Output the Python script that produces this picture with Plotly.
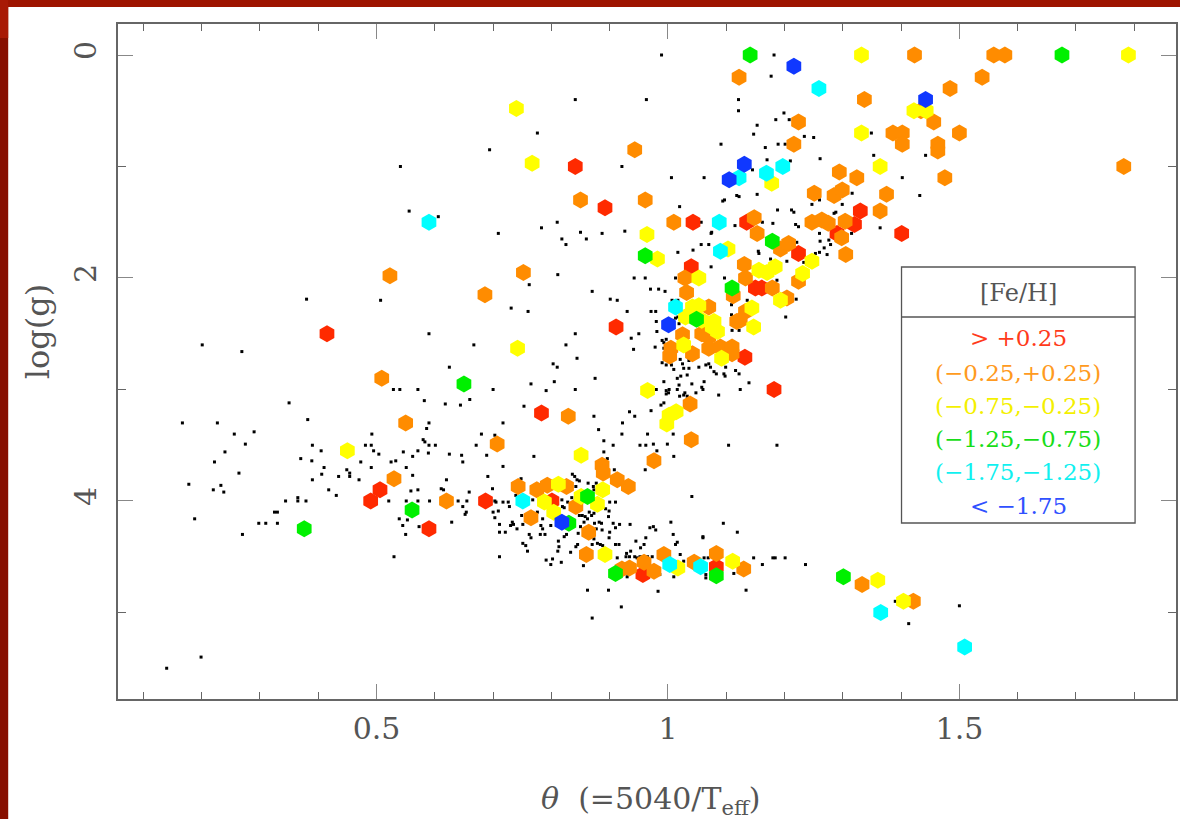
import plotly.graph_objects as go

# ---- field stars (theta = 5040/Teff, log g) ----
dots_theta = [
    0.380, 0.507, 0.201, 0.269, 0.590, 0.667, 0.625, 0.529, 0.540, 0.571, 0.700, 0.582, 0.618, 0.644, 0.660,
    0.350, 0.167, 0.227, 0.382, 0.256, 0.290, 0.275, 0.240, 0.222, 0.264, 0.178, 0.220, 0.233, 0.238, 0.188,
    0.270, 0.298, 0.310, 0.330, 0.325, 0.330, 0.344, 0.365, 0.365, 0.379, 0.370, 0.389, 0.390, 0.405, 0.410,
    0.406, 0.390, 0.418, 0.431, 0.435, 0.449, 0.454, 0.454, 0.470, 0.473, 0.491, 0.492, 0.481, 0.491, 0.495,
    0.504, 0.525, 0.533, 0.546, 0.551, 0.562, 0.571, 0.562, 0.580, 0.583, 0.586, 0.590, 0.590, 0.601, 0.589,
    0.625, 0.646, 0.648, 0.680, 0.703, 0.671, 0.689, 0.691, 0.699, 0.620, 0.611, 0.615, 0.559, 0.571, 0.521,
    0.551, 0.571, 0.591, 0.640, 0.655, 0.659, 0.648, 0.654, 0.652, 0.700, 0.703, 0.629, 0.539, 0.553, 0.545,
    0.550, 0.573, 0.530, 0.199, 0.140,
    0.989, 0.841, 0.963, 0.776, 0.694, 0.541, 0.921, 1.006, 0.556, 0.606, 0.709, 0.783, 0.810, 0.818, 0.825,
    0.850, 0.860, 0.887, 0.926, 1.017, 0.811, 0.762, 0.870, 0.901, 0.913, 0.942, 0.961, 1.013, 0.970, 0.984,
    0.995, 0.930, 0.971, 0.979, 0.731, 0.760, 0.980, 0.841, 0.825, 0.844, 0.803, 0.810, 0.937, 0.950, 0.941,
    0.981, 0.978, 0.993, 0.997, 0.990, 0.997, 1.006, 1.010, 1.016, 0.993, 0.875, 0.805, 0.765, 0.791, 0.841,
    0.980, 0.997, 1.002, 1.016,
    1.104, 1.187, 1.095, 1.119, 1.060, 1.062, 1.069, 1.065, 1.065, 1.113, 1.134, 1.147, 1.162, 1.180, 1.184,
    1.201, 1.236, 1.390, 1.413, 1.500,
    0.753, 0.717, 0.873, 0.881, 0.890, 0.906, 0.922, 0.921, 0.934, 0.943, 0.971, 0.988, 0.993, 0.997, 1.001,
    1.027, 1.033, 1.020, 1.041, 1.048, 1.058, 1.060, 1.087, 1.124, 1.139, 1.009, 0.999, 1.041, 0.717, 0.770,
    0.703, 0.705, 0.717, 0.726, 0.728, 0.739, 0.748, 0.711, 0.721, 0.711, 0.730, 0.735, 0.741, 0.749, 0.751,
    0.756, 0.759, 0.762, 0.765, 0.768, 0.776, 0.785, 0.782, 0.785, 0.781, 0.789, 0.791, 0.799, 0.802, 0.812,
    0.813, 0.811, 0.817, 0.799, 0.822, 0.826, 0.818, 0.819, 0.822, 0.828, 0.835, 0.841, 0.833, 0.842, 0.845,
    0.846, 0.850, 0.853, 0.858, 0.848, 0.856, 0.862, 0.865, 0.869, 0.873, 0.874, 0.882, 0.886, 0.877, 0.887,
    0.868, 0.873, 0.879, 0.884, 0.888, 0.870, 0.893, 0.899, 0.898, 0.906, 0.910, 0.900, 0.899, 0.910, 0.916,
    0.917, 0.910, 0.900, 0.928, 0.934, 0.943, 0.947, 0.929, 0.935, 0.945, 0.953, 0.959, 0.952, 0.957, 0.960,
    0.969, 0.975, 0.979, 0.965, 0.973, 0.985, 0.986, 1.005, 1.009, 1.016, 1.013, 1.021, 1.010, 1.027, 1.060,
    0.862, 0.898, 0.983, 0.920, 0.870, 0.855, 0.930, 0.913, 0.936, 0.962, 0.751, 0.759, 0.711, 0.733, 0.709,
    0.840, 0.844, 0.836, 0.842, 0.802, 0.808, 0.791, 0.863, 0.872, 0.877, 0.848, 0.873, 0.896, 0.908, 0.890,
    0.961, 0.952, 0.962, 0.975, 1.010, 0.981, 0.965,
    1.057, 1.057, 1.115, 1.162, 1.180, 1.219, 1.224, 1.260, 1.261, 1.276, 1.279, 1.268, 1.273, 1.315, 1.364,
    1.043, 1.074, 1.155, 1.156, 1.176, 1.204, 1.233, 1.253, 1.260, 1.074, 1.097, 1.017, 1.013, 1.007, 1.008,
    0.990, 0.993, 1.019, 1.017, 1.136, 1.187, 1.213, 1.220, 1.109, 1.109, 1.110, 1.122, 1.109, 1.202, 1.029,
    1.062, 1.122, 1.116, 1.099, 1.096, 1.098, 1.070, 1.073, 1.079, 1.083, 1.053, 1.065, 1.036, 1.036, 1.021,
    1.025, 1.027, 1.019, 1.022, 1.033,
    1.182, 1.177, 1.121, 1.121, 1.199, 1.185, 1.208, 1.153, 1.147, 1.234, 1.250, 1.091, 1.167, 1.189, 1.201,
    1.349, 1.261, 1.210, 1.170, 1.353, 1.442, 1.062, 1.145, 1.402, 1.118, 1.122, 1.153, 1.094, 1.097, 1.020,
    1.188, 1.212, 1.216, 1.247, 1.260, 1.299, 1.285, 1.288, 1.316, 1.432, 1.075, 1.070, 1.221,
]
dots_logg = [
    2.19, 2.20, 2.60, 2.66, 2.50, 2.60, 2.80, 3.00, 3.00, 3.00, 3.00, 3.10, 3.13, 3.14, 3.09,
    3.12, 3.30, 3.30, 3.27, 3.40, 3.38, 3.49, 3.56, 3.65, 3.75, 3.85, 3.90, 3.86, 3.92, 4.16,
    4.30, 4.20, 4.20, 4.20, 4.10, 4.10, 4.00, 4.00, 3.97, 4.00, 3.62, 3.64, 3.50, 3.55, 3.70,
    3.76, 3.81, 3.90, 3.95, 3.78, 3.72, 3.75, 3.78, 3.81, 3.65, 3.70, 3.40, 3.50, 3.50, 3.55,
    3.58, 3.65, 3.64, 3.56, 3.70, 3.60, 3.55, 3.77, 3.45, 3.47, 3.35, 3.30, 3.50, 3.50, 3.57,
    3.58, 3.59, 3.65, 3.40, 3.41, 3.50, 3.59, 3.78, 3.89, 3.81, 3.89, 3.90, 3.91, 3.90, 4.00,
    4.00, 4.00, 4.00, 4.00, 4.00, 3.92, 4.05, 4.10, 4.12, 4.10, 4.15, 4.19, 4.16, 4.17, 4.22,
    4.30, 4.23, 4.50, 5.40, 5.50,
    0.00, 0.40, 0.40, 0.70, 0.85, 1.00, 1.00, 1.10, 1.40, 1.45, 1.60, 1.55, 1.50, 1.65, 1.70,
    1.59, 1.65, 1.60, 1.58, 1.77, 1.97, 2.06, 2.12, 2.19, 2.20, 2.00, 2.00, 2.00, 2.10, 2.10,
    2.12, 2.30, 2.30, 2.30, 2.27, 2.30, 2.39, 2.50, 2.60, 2.72, 2.77, 2.80, 2.54, 2.50, 2.64,
    2.48, 2.62, 2.58, 2.55, 2.76, 2.78, 2.78, 2.82, 2.90, 2.93, 2.90, 2.93, 2.95, 3.01, 3.00,
    3.00, 3.01, 3.00, 3.00,
    3.50, 3.50, 4.20, 4.28, 4.33, 4.51, 4.51, 4.66, 4.69, 4.65, 4.80, 4.51, 4.57, 4.51, 4.51,
    4.51, 4.57, 4.90, 5.10, 4.94,
    3.15, 3.30, 3.24, 3.36, 3.46, 3.50, 3.30, 3.40, 3.20, 3.24, 3.19, 3.14, 3.12, 3.04, 3.03,
    3.05, 3.06, 3.06, 2.95, 3.03, 2.98, 3.00, 3.05, 3.00, 2.94, 3.40, 3.49, 3.96, 3.69, 3.60,
    4.00, 4.01, 4.01, 4.01, 4.05, 3.95, 3.80, 4.21, 4.28, 4.28, 4.22, 4.21, 4.25, 4.13, 4.38,
    4.40, 4.45, 4.30, 4.33, 3.99, 4.10, 4.16, 4.22, 4.25, 4.30, 4.30, 4.53, 4.57, 4.52, 4.36,
    4.41, 4.45, 4.55, 4.22, 4.32, 4.30, 3.99, 4.05, 4.06, 4.01, 3.97, 4.02, 4.46, 4.41, 4.39,
    4.29, 4.23, 4.13, 4.14, 4.13, 4.19, 4.16, 4.10, 4.13, 4.11, 4.20, 4.19, 4.20, 4.25, 4.26,
    4.30, 4.34, 4.38, 4.39, 4.40, 4.39, 4.07, 4.09, 4.14, 4.20, 4.24, 4.28, 4.33, 4.39, 4.39,
    4.21, 4.01, 4.01, 4.50, 4.50, 4.50, 4.51, 4.47, 4.21, 4.36, 4.42, 4.39, 4.50, 4.50, 4.50,
    4.24, 4.23, 4.26, 4.50, 4.50, 4.51, 4.66, 4.19, 4.30, 4.37, 4.39, 4.48, 4.68, 4.54, 4.32,
    4.80, 4.80, 4.81, 4.95, 5.05, 4.58, 4.68, 4.51, 4.45, 4.33, 4.21, 4.17, 4.50, 4.19, 4.09,
    3.78, 3.81, 3.76, 3.87, 4.06, 4.11, 4.05, 3.84, 3.87, 3.84, 3.82, 3.90, 3.62, 3.72, 3.56,
    3.72, 3.50, 3.50, 3.49, 3.60, 3.55, 3.40,
    1.50, 1.70, 1.53, 1.50, 1.51, 1.52, 1.54, 1.60, 1.67, 1.66, 1.70, 1.73, 1.79, 1.60, 1.55,
    1.75, 1.60, 1.76, 1.78, 1.83, 1.85, 1.86, 1.78, 1.77, 1.90, 2.00, 2.20, 2.36, 2.20, 2.38,
    2.56, 2.63, 2.41, 2.35, 2.20, 2.02, 2.18, 2.19, 2.33, 2.38, 2.47, 2.47, 2.24, 2.35, 3.03,
    2.93, 2.86, 2.83, 2.80, 2.86, 2.88, 2.77, 2.80, 2.84, 2.86, 2.80, 2.78, 2.74, 2.81, 2.73,
    2.77, 2.81, 2.96, 2.88, 2.87,
    0.00, 0.19, 0.40, 0.50, 0.52, 0.58, 0.58, 0.63, 0.71, 0.73, 0.74, 0.80, 0.83, 0.80, 0.80,
    0.70, 0.93, 0.95, 0.94, 0.90, 0.90, 1.10, 1.03, 1.10, 1.26, 1.27, 1.25, 1.31, 1.30, 1.36,
    1.39, 1.39, 1.41, 1.34, 1.30, 1.34, 1.42, 1.41, 1.24, 1.26, 1.59, 1.70, 1.68,
]

# ---- stars with measured metallicity, grouped by [Fe/H] bin ----
red_theta = [0.415, 0.506, 0.490, 0.590, 0.687, 0.841, 0.892, 0.911, 0.783, 0.801, 0.957, 1.083,
             1.182, 1.043, 1.135, 1.290, 1.320, 1.401, 1.224, 1.040, 1.150, 1.161, 1.132, 1.330]
red_logg = [2.50, 3.90, 4.00, 4.25, 4.00, 1.00, 1.37, 2.44, 3.21, 4.00, 4.66, 4.59,
            3.00, 1.50, 1.50, 1.60, 1.52, 1.60, 1.78, 1.90, 2.09, 2.09, 2.71, 1.40]

orange_theta = [0.523, 0.686, 0.509, 0.550, 0.707, 0.530, 0.620, 0.943, 0.850, 0.961, 1.010, 0.752,
                1.005, 1.003, 0.829, 1.038, 1.040, 0.976, 0.887, 0.889, 0.913, 0.932, 0.743, 0.775,
                0.793, 0.826, 0.765, 0.842, 0.864, 0.860, 0.921, 0.934, 0.959, 0.976, 0.993, 1.045,
                1.083, 1.130, 1.333, 1.421, 1.153, 1.247, 1.275, 1.298, 1.305, 1.193, 1.207, 1.131,
                1.029, 1.032, 1.133, 1.179, 1.224, 1.112, 1.204, 1.124, 1.118, 1.133, 1.070, 1.058,
                1.070, 1.025, 1.042, 1.070, 1.090, 1.110, 1.110, 1.122, 1.423, 1.559, 1.578, 1.539,
                1.484, 1.337, 1.434, 1.456, 1.224, 1.500, 1.386, 1.402, 1.402, 1.463, 1.463, 1.216,
                1.782, 1.294, 1.324, 1.475, 1.251, 1.285, 1.299, 1.375, 1.364, 1.148, 1.264, 1.304]
orange_logg = [1.98, 2.15, 2.90, 3.30, 3.49, 3.80, 4.00, 0.85, 1.30, 1.30, 1.50, 1.95,
               2.63, 2.70, 3.24, 3.13, 3.45, 3.64, 3.68, 3.75, 3.81, 3.87, 3.87, 3.90,
               3.86, 3.87, 4.15, 4.05, 4.28, 4.48, 4.61, 4.60, 4.55, 4.63, 4.48, 4.55,
               4.47, 4.61, 4.75, 4.90, 1.60, 1.50, 1.51, 1.64, 1.79, 1.74, 1.69, 1.88,
               2.00, 2.13, 2.00, 2.09, 2.03, 2.16, 2.18, 2.38, 2.39, 2.30, 2.26, 2.50,
               2.53, 2.51, 2.68, 2.63, 2.62, 2.62, 2.68, 0.20, 0.00, 0.00, 0.00, 0.20,
               0.30, 0.40, 0.50, 0.60, 0.60, 0.70, 0.70, 0.70, 0.80, 0.80, 0.86, 0.80,
               1.00, 1.05, 1.10, 1.10, 1.24, 1.26, 1.21, 1.25, 1.40, 1.46, 1.48, 1.49]

yellow_theta = [0.450, 0.740, 0.767, 0.964, 0.982, 0.742, 0.965, 1.002, 1.014, 0.998, 0.851, 0.812,
                0.788, 0.804, 0.851, 0.888, 0.879, 0.892, 1.017, 1.111, 1.360, 1.404, 1.103, 1.053,
                1.156, 1.170, 1.184, 1.231, 1.247, 1.193, 1.144, 1.147, 1.037, 1.053, 1.058, 1.030,
                1.079, 1.085, 1.076, 1.027, 1.092, 1.042, 1.178, 1.332, 1.790, 1.422, 1.443, 1.332,
                1.364]
yellow_logg = [3.55, 0.48, 0.97, 1.61, 1.83, 2.63, 3.01, 3.23, 3.20, 3.31, 3.59, 3.85,
               4.01, 4.10, 3.96, 3.90, 4.03, 4.48, 4.60, 4.54, 4.71, 4.90, 1.74, 2.00,
               1.93, 1.95, 1.90, 1.96, 1.85, 2.20, 2.27, 2.44, 2.33, 2.25, 2.38, 2.35,
               2.39, 2.48, 2.44, 2.60, 2.72, 2.26, 1.15, 0.00, 0.00, 0.50, 0.50, 0.70,
               1.00]

green_theta = [0.650, 0.561, 0.376, 0.961, 0.862, 0.830, 0.910, 1.083, 1.301, 1.179, 1.110, 1.049,
               1.141, 1.676]
green_logg = [2.95, 4.08, 4.25, 1.80, 3.96, 4.20, 4.65, 4.67, 4.68, 1.67, 2.09, 2.37,
              0.00, 0.00]

cyan_theta = [0.590, 1.013, 0.751, 1.003, 1.056, 1.365, 1.509, 1.088, 1.090, 1.259, 1.197, 1.122, 1.169]
cyan_logg = [1.50, 2.26, 4.00, 4.57, 4.59, 5.00, 5.31, 1.50, 1.76, 0.30, 1.00, 1.10, 1.06]

blue_theta = [1.001, 0.818, 1.216, 1.442, 1.131, 1.105]
blue_logg = [2.42, 4.19, 0.10, 0.40, 0.98, 1.12]

bin_labels = ["> +0.25", "(\u22120.25,+0.25)", "(\u22120.75,\u22120.25)",
              "(\u22121.25,\u22120.75)", "(\u22121.75,\u22121.25)", "< \u22121.75"]
bin_colors = ["#FF2A00", "#FF8C00", "#FFFF00", "#00F000", "#00FFFF", "#1038FF"]
text_colors = ["#FF3A1A", "#FF9A20", "#F4F000", "#18DD18", "#10F0F0", "#3050FF"]

groups = [
    (red_theta, red_logg, bin_colors[0]),
    (orange_theta, orange_logg, bin_colors[1]),
    (yellow_theta, yellow_logg, bin_colors[2]),
    (green_theta, green_logg, bin_colors[3]),
    (cyan_theta, cyan_logg, bin_colors[4]),
    (blue_theta, blue_logg, bin_colors[5]),
]

FONT = "DejaVu Serif"
INK = "#555555"

fig = go.Figure()
fig.add_trace(go.Scatter(
    x=dots_theta, y=dots_logg, mode="markers",
    marker=dict(symbol="square", size=3, color="black", line=dict(width=0)),
    hoverinfo="skip", showlegend=False,
))
for th, lg, col in groups:
    fig.add_trace(go.Scatter(
        x=th, y=lg, mode="markers",
        marker=dict(symbol="hexagon", size=17, color=col, line=dict(width=0)),
        showlegend=False,
    ))

axis_common = dict(
    showgrid=False, zeroline=False, showline=True, linecolor="#666666", linewidth=1.5,
    mirror="allticks", ticks="inside", ticklen=15, tickwidth=1.2, tickcolor="#888888",
    tickfont=dict(family=FONT, size=30, color=INK),
)
fig.update_xaxes(
    range=[0.0565, 1.8716], tickmode="linear", tick0=0, dtick=0.5,
    minor=dict(dtick=0.1, ticks="inside", ticklen=7, tickwidth=1.2, tickcolor="#666666"),
    ticklabelstandoff=2, **axis_common,
)
fig.update_yaxes(
    range=[5.776, -0.278], tickmode="linear", tick0=0, dtick=2, tickangle=-90,
    minor=dict(dtick=1, ticks="inside", ticklen=8, tickwidth=1.2, tickcolor="#666666"),
    ticklabelstandoff=8, **axis_common,
)

# page frame (dark red border at top and left)
W, H = 1180, 819
L, R, T, B = 118, 2, 24, 120
pw, ph = W - L - R, H - T - B


def px(x):
    return (x - L) / pw


def py(y):
    return (H - B - y) / ph


shapes = [
    dict(type="rect", xref="paper", yref="paper", x0=px(8), x1=px(W + 5), y0=py(H + 5), y1=py(7),
         fillcolor="white", line=dict(width=0), layer="below"),
    dict(type="rect", xref="paper", yref="paper", x0=px(-5), x1=px(W + 5), y0=py(7), y1=py(-5),
         fillcolor="#9E1400", line=dict(width=0), layer="below"),
    dict(type="rect", xref="paper", yref="paper", x0=px(-5), x1=px(8), y0=py(38), y1=py(-5),
         fillcolor="#A81905", line=dict(width=0), layer="below"),
    # [Fe/H] key box
    dict(type="rect", xref="paper", yref="paper", x0=px(903), x1=px(1137), y0=py(523), y1=py(267),
         fillcolor="white", line=dict(color="#555555", width=1.3), layer="above"),
    dict(type="line", xref="paper", yref="paper", x0=px(903), x1=px(1137), y0=py(317), y1=py(317),
         line=dict(color="#555555", width=1.3), layer="above"),
]


def label(text, x, y, size, color, angle=0):
    return dict(text=text, x=px(x), y=py(y), xref="paper", yref="paper", showarrow=False,
                xanchor="center", yanchor="middle", textangle=angle,
                font=dict(family=FONT, size=size, color=color))


annotations = [
    label("[Fe/H]", 1020, 293, 24, INK),
    label("log(g)", 38, 332, 32, INK, angle=-90),
    label("<i>\u03b8</i>  (=5040/T<sub>eff</sub>)", 652, 800, 30, INK),
]
row_y = [338, 373, 406, 439, 472, 506]
for lab, col, yy in zip(bin_labels, text_colors, row_y):
    annotations.append(label(lab, 1020, yy, 23, col))

fig.update_layout(
    width=W, height=H, margin=dict(l=L, r=R, t=T, b=B, pad=0),
    paper_bgcolor="#870F00", plot_bgcolor="white",
    shapes=shapes, annotations=annotations, showlegend=False,
)

fig.write_html("out.html")
